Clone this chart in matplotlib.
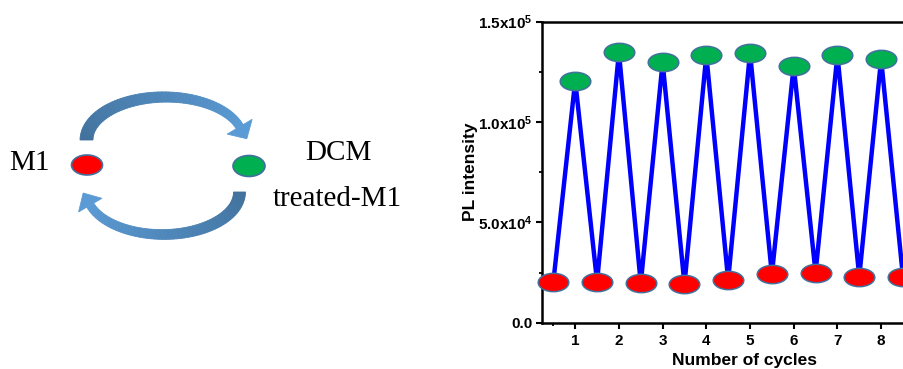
import numpy as np
import matplotlib
matplotlib.use("Agg")
import matplotlib.pyplot as plt
from matplotlib.path import Path
from matplotlib.transforms import Affine2D
from matplotlib.patches import Ellipse, Polygon
from matplotlib.ticker import FuncFormatter, FixedLocator

plt.rcParams["mathtext.fontset"] = "custom"
plt.rcParams["mathtext.rm"] = "Liberation Sans:bold"
plt.rcParams["mathtext.default"] = "rm"

# ---- switching data -------------------------------------------------------
cycles = [1, 2, 3, 4, 5, 6, 7, 8]
off_pos = [0.5, 1.5, 2.5, 3.5, 4.5, 5.5, 6.5, 7.5, 8.5]
pl_treated = [120600, 134700, 129700, 133400, 134500, 127900, 133400, 131400]
pl_pristine = [20400, 20400, 19600, 19100, 21300, 24100, 24900, 22900, 22900]
y_ticks = [0, 50000, 100000, 150000]

W, H = 904, 369
fig = plt.figure(figsize=(W / 100, H / 100), dpi=100)

# ---- scheme on the left (pixel coordinates) -------------------------------
sch = fig.add_axes([0, 0, 1, 1])
sch.set_xlim(0, W)
sch.set_ylim(H, 0)
sch.axis("off")

dark = np.array(matplotlib.colors.to_rgb("#41719c"))
light = np.array(matplotlib.colors.to_rgb("#5b9bd5"))


def curved_arrow(ax, cx, cy, rx, ry, t0, t1, w0, w1, head_w, head_l, sign):
    """Thick elliptical arc arrow with a colour gradient from tail to head."""
    ts = np.radians(np.linspace(t0, t1, 60))

    def pt(t):
        return np.array([cx + rx * np.cos(t), cy + sign * ry * np.sin(t)])

    def tangent(t):
        d = np.array([-rx * np.sin(t), sign * ry * np.cos(t)])
        if t1 < t0:
            d = -d
        return d / np.hypot(*d)

    ws = np.linspace(w0, w1, len(ts))
    outer, inner = [], []
    for t, w in zip(ts, ws):
        p = pt(t)
        tg = tangent(t)
        n = np.array([-tg[1], tg[0]])
        outer.append(p + n * w / 2)
        inner.append(p - n * w / 2)
    n_seg = len(ts) - 1
    for i in range(n_seg):
        f = i / n_seg
        c = dark * (1 - f) + light * f
        quad = [outer[i], outer[i + 1], inner[i + 1], inner[i]]
        ax.add_patch(Polygon(quad, closed=True, facecolor=c, edgecolor=c,
                             linewidth=0.6))
    te = ts[-1]
    base = pt(te)
    tg = tangent(te)
    n = np.array([-tg[1], tg[0]])
    tip = base + tg * head_l
    head = [base + n * head_w / 2, tip, base - n * head_w / 2]
    ax.add_patch(Polygon(head, closed=True, facecolor=light, edgecolor=light,
                         linewidth=0.6))


# upper arrow: M1 -> DCM treated-M1
curved_arrow(sch, 165, 140, 78.5, 43, 180, 18, 13, 8, 29, 14, -1)
# lower arrow: back to M1
curved_arrow(sch, 163, 192, 76.5, 42.5, 0, 162, 12, 8, 27, 14, 1)

sch.add_patch(Ellipse((87, 165), 31, 20, facecolor="#ff0000",
                      edgecolor="#41719c", linewidth=1.2))
sch.add_patch(Ellipse((249, 166), 32, 21, facecolor="#00b050",
                      edgecolor="#41719c", linewidth=1.2))

serif = ["Liberation Serif", "DejaVu Serif"]
sch.text(29.5, 170, "M1", family=serif, fontsize=21, ha="center",
         va="baseline", color="black")
sch.text(338, 160, "DCM", family=serif, fontsize=21, ha="center",
         va="baseline", color="black")
sch.text(337, 206.5, "treated-M1", family=serif, fontsize=21,
         ha="center", va="baseline", color="black")

# ---- PL switching plot -----------------------------------------------------
x_lo, x_hi = 0.24, 9.5
px_per_unit = 43.7
left_px, bottom_px, top_px = 542, 322.7, 21.7
ax = fig.add_axes([left_px / W, 1 - bottom_px / H,
                   (x_hi - x_lo) * px_per_unit / W, (bottom_px - top_px) / H])

xs, ys = [], []
for i in range(len(off_pos)):
    xs.append(off_pos[i])
    ys.append(pl_pristine[i])
    if i < len(cycles):
        xs.append(cycles[i])
        ys.append(pl_treated[i])
ax.plot(xs, ys, color="#0000ff", linewidth=3.2, zorder=2, clip_on=False)

oval = Path.unit_circle().transformed(Affine2D().scale(1.0, 0.6))
ax.plot(cycles, pl_treated, linestyle="none", marker=oval, markersize=22,
        markerfacecolor="#00b050", markeredgecolor="#41719c",
        markeredgewidth=1.1, zorder=3, clip_on=False)
ax.plot(off_pos, pl_pristine, linestyle="none", marker=oval, markersize=22,
        markerfacecolor="#ff0000", markeredgecolor="#41719c",
        markeredgewidth=1.1, zorder=3, clip_on=False)

ax.set_xlim(x_lo, x_hi)
ax.set_ylim(0, 150000)
ax.set_xticks(cycles)
ax.xaxis.set_minor_locator(FixedLocator([0.5]))
ax.set_yticks(y_ticks)
ax.yaxis.set_minor_locator(FixedLocator([25000, 75000, 125000]))


def sci(v, _pos):
    if v == 0:
        return "0.0"
    e = int(np.floor(np.log10(v)))
    m = v / 10 ** e
    return f"{m:.1f}x10$^{{{e}}}$"


ax.yaxis.set_major_formatter(FuncFormatter(sci))

for s in ax.spines.values():
    s.set_linewidth(1.8)
ax.tick_params(which="major", direction="out", length=4, width=1.5)
ax.tick_params(which="minor", direction="out", length=2.5, width=1.3)
ax.tick_params(axis="x", which="major", labelsize=11, pad=4)
ax.tick_params(axis="y", which="major", labelsize=11, pad=3)
for lab in ax.get_xticklabels() + ax.get_yticklabels():
    lab.set_fontfamily("Liberation Sans")
    lab.set_fontweight("bold")

ax.set_xlabel("Number of cycles", fontfamily="Liberation Sans",
              fontweight="bold", fontsize=12.5, labelpad=4)
ax.set_ylabel("PL intensity", fontfamily="Liberation Sans",
              fontweight="bold", fontsize=12.5, labelpad=0)

fig.savefig("out.png", dpi=100)
